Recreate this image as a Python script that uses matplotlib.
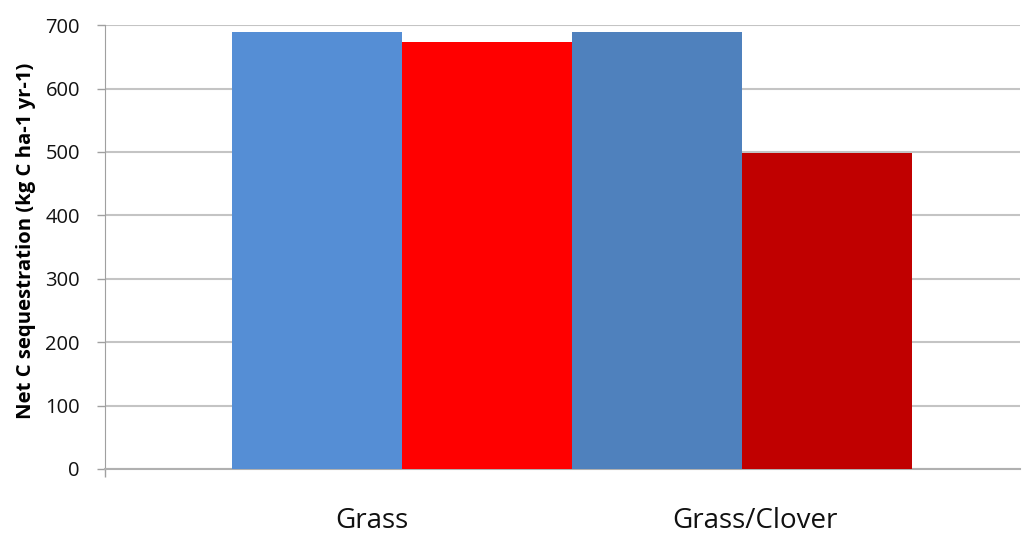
import matplotlib
matplotlib.use("Agg")
import matplotlib.pyplot as plt

# data
categories = ["Grass", "Grass/Clover"]
bar_values = [689, 674, 689, 498]
bar_colors = ["#558ED5", "#FF0000", "#4F81BD", "#C00000"]
y_ticks = [0, 100, 200, 300, 400, 500, 600, 700]

plt.rcParams['font.family'] = ['Open Sans', 'DejaVu Sans']

fig = plt.figure(figsize=(10.25, 5.35), dpi=100)
ax = fig.add_axes([0.1024, 0.1234, 0.8926, 0.8296])

# bars sit side by side, no gaps
bar_w = 0.3716
x_pos = [0.2776 + bar_w * (i + 0.5) for i in range(len(bar_values))]
ax.bar(x_pos, bar_values, width=bar_w, color=bar_colors, zorder=3)

ax.set_xlim(0, 2)
ax.set_ylim(0, 700)
ax.set_yticks(y_ticks)
ax.set_yticklabels([str(t) for t in y_ticks], fontsize=14.5, color="#111111")
ax.yaxis.grid(True, color="#c4c4c4", linewidth=1.5, zorder=0)
ax.tick_params(axis="y", length=6, width=1, color="#a0a0a0", pad=12)

# category labels
ax.set_xticks([0.0])
ax.set_xticklabels([""])
ax.tick_params(axis="x", length=6, width=1, color="#a0a0a0", direction="out")
label_pos = [0.584, 1.42]
for lab, xp in zip(categories, label_pos):
    ax.text(xp, -0.085, lab, transform=ax.get_xaxis_transform(), ha="center",
            va="top", fontsize=20, color="#111111")

ax.set_ylabel("Net C sequestration (kg C ha-1 yr-1)", fontsize=14.6,
              fontweight="bold")
ax.yaxis.set_label_coords(-0.0755, 0.513)

for s in ["top", "right"]:
    ax.spines[s].set_visible(False)
ax.spines["left"].set_color("#a0a0a0")
ax.spines["bottom"].set_color("#b0b0b0")
ax.spines["bottom"].set_linewidth(1.5)

fig.savefig("out.png", dpi=100)
